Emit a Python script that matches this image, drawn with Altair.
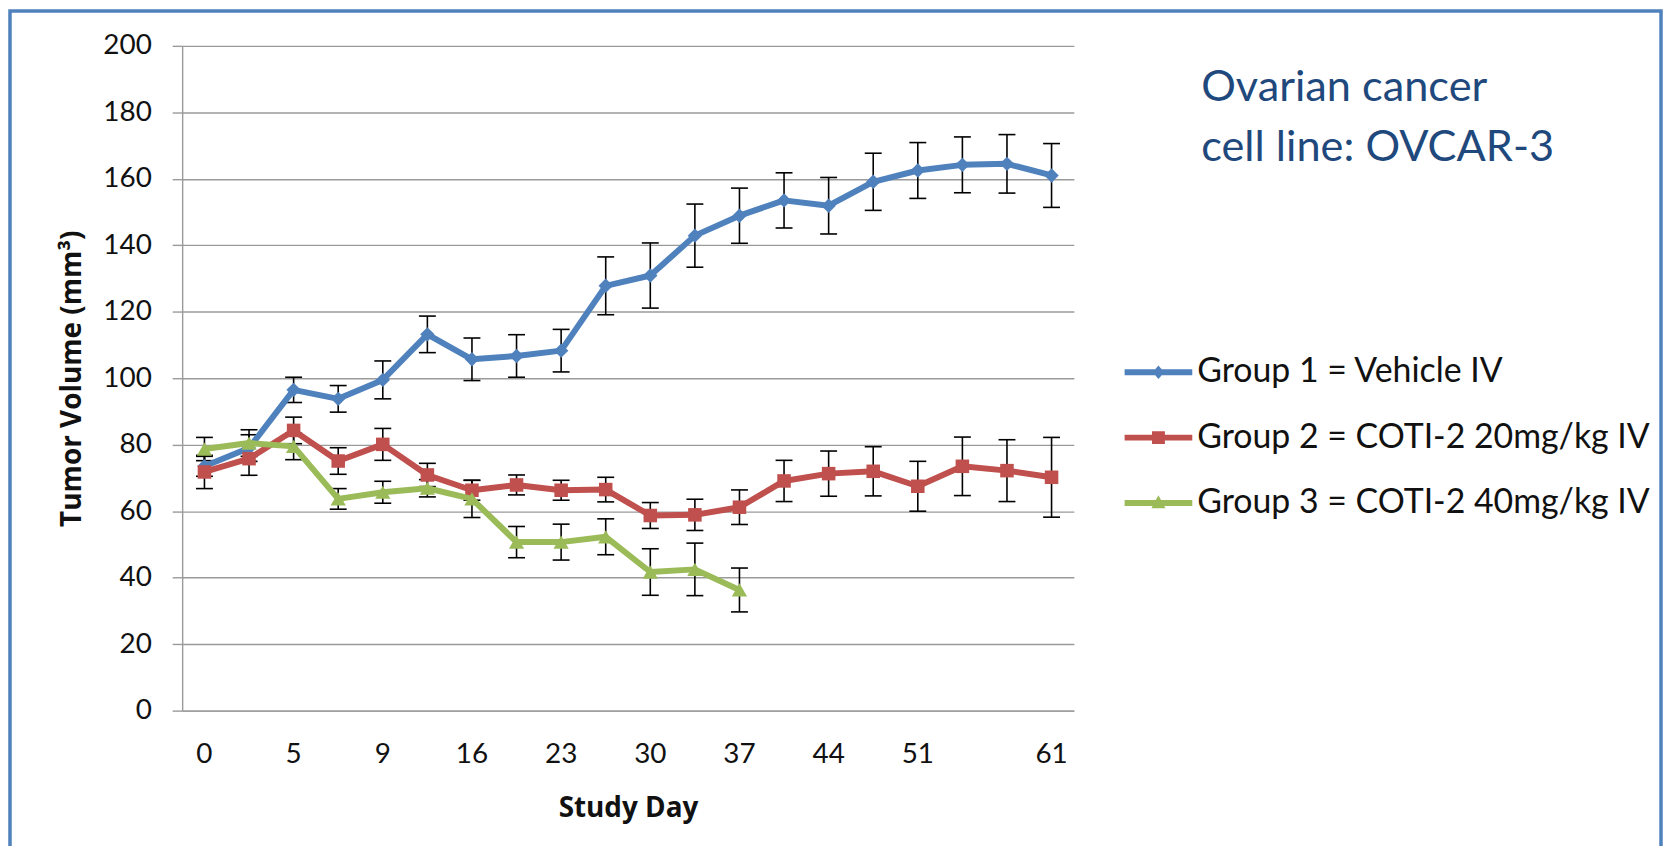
import altair as alt
import pandas as pd

# ---------------- data ----------------
days = [0, 2, 5, 7, 9, 12, 16, 19, 23, 26, 30, 33, 37, 40, 44, 47, 51, 54, 58, 61]
shown_days = [0, 5, 9, 16, 23, 30, 37, 44, 51, 61]
groups = ["Group 1 = Vehicle IV", "Group 2 = COTI-2 20mg/kg IV", "Group 3 = COTI-2 40mg/kg IV"]
colors = ["#4F81BD", "#C0504D", "#9BBB59"]
marker_shapes = ["diamond", "square", "triangle-up"]
marker_sizes = [210, 185, 235]

g1_mean = [73.5, 79.0, 96.5, 93.8, 99.5, 113.2, 105.7, 106.7, 108.3, 127.8,
           130.9, 142.9, 148.9, 153.5, 151.9, 159.1, 162.5, 164.2, 164.5, 161.0]
g1_err = [3.0, 4.0, 3.8, 4.0, 5.7, 5.5, 6.4, 6.4, 6.4, 8.7,
          9.8, 9.5, 8.3, 8.3, 8.5, 8.6, 8.4, 8.4, 8.8, 9.6]
g2_mean = [71.8, 75.8, 84.3, 75.1, 80.1, 70.9, 66.3, 67.9, 66.3, 66.5,
           58.7, 58.9, 61.2, 69.1, 71.3, 72.0, 67.5, 73.5, 72.2, 70.2]
g2_err = [5.0, 5.0, 4.0, 4.0, 4.8, 3.5, 3.0, 3.0, 3.0, 3.7,
          3.9, 4.7, 5.2, 6.2, 6.8, 7.4, 7.5, 8.8, 9.3, 12.0]
g3_mean = [78.7, 80.5, 79.5, 63.7, 65.7, 66.9, 63.7, 50.7, 50.7, 52.3,
           41.7, 42.5, 36.3]
g3_err = [3.5, 4.0, 4.0, 3.1, 3.3, 2.6, 5.6, 4.7, 5.4, 5.4, 7.0, 7.9, 6.6]

annotation = "Ovarian cancer\ncell line: OVCAR-3"
y_title = "Tumor Volume (mm³)"
x_title = "Study Day"

means = [g1_mean, g2_mean, g3_mean]
errs = [g1_err, g2_err, g3_err]

rows = []
for g, m_list, e_list in zip(groups, means, errs):
    for d, m, e in zip(days, m_list, e_list):
        rows.append({"group": g, "day": d, "mean": m, "lo": m - e, "hi": m + e})
df = pd.DataFrame(rows)

# legend symbols: line + marker (unit coordinates)
legend_paths = [
    "M-1.1,-0.095L-0.105,-0.095L0,-0.22L0.105,-0.095L1.1,-0.095L1.1,0.095L0.105,0.095L0,0.22L-0.105,0.095L-1.1,0.095Z",
    "M-1.1,-0.095L-0.21,-0.095L-0.21,-0.21L0.21,-0.21L0.21,-0.095L1.1,-0.095L1.1,0.095L0.21,0.095L0.21,0.21L-0.21,0.21L-0.21,0.095L-1.1,0.095Z",
    "M-1.1,-0.095L-0.085,-0.095L0,-0.25L0.085,-0.095L1.1,-0.095L1.1,0.095L0.187,0.095L0.23,0.17L-0.23,0.17L-0.187,0.095L-1.1,0.095Z",
]

# ---------------- layout ----------------
W, H = 896, 668
GRID = "#9A9A9A"
FONT = "Lato"
TFONT = "Open Sans"

label_expr = "indexof([" + ",".join(str(d) for d in shown_days) + "], datum.value) >= 0 ? datum.label : ''"

x_axis = alt.Axis(
    labelExpr=label_expr, ticks=False, labelAngle=0, labelPadding=30,
    labelFont=FONT, labelFontSize=28, labelColor="#111111",
    labelOverlap=False, grid=False, domainColor=GRID, domainWidth=1.4,
    titleFont=TFONT, titleFontWeight="bold", titleFontSize=28, titleColor="#111111",
    titleX=W / 2, titleY=98, titleBaseline="middle", titleAlign="center",
)
y_axis = alt.Axis(
    values=list(range(0, 201, 20)), tickSize=10, tickColor=GRID, tickWidth=1.4,
    labelPadding=21, labelFont=FONT, labelFontSize=28, labelColor="#111111",
    grid=True, gridColor=GRID, gridWidth=1.4, domainColor=GRID, domainWidth=1.4,
    titleFont=TFONT, titleFontWeight="bold", titleFontSize=28, titleColor="#111111",
    titleX=-110, titleY=H / 2, titleBaseline="middle", titleAlign="center", titleAngle=270,
)


def X():
    return alt.X("day:O", scale=alt.Scale(domain=days), axis=x_axis, title=x_title)


def Y(field):
    return alt.Y(field, scale=alt.Scale(domain=[0, 200]), axis=y_axis, title=y_title)


layers = []
# error bars
layers.append(
    alt.Chart(df).mark_rule(color="black", strokeWidth=1.6).encode(
        x=X(), y=Y("lo:Q"), y2="hi:Q")
)
for f in ["lo:Q", "hi:Q"]:
    layers.append(
        alt.Chart(df).mark_tick(color="black", thickness=1.6, size=17, opacity=1).encode(
            x=X(), y=Y(f))
    )

# series
for g, c, shp, sz in zip(groups, colors, marker_shapes, marker_sizes):
    sub = df[df["group"] == g]
    layers.append(
        alt.Chart(sub).mark_line(color=c, strokeWidth=6, strokeJoin="round").encode(
            x=X(), y=Y("mean:Q"))
    )
    layers.append(
        alt.Chart(sub).mark_point(shape=shp, filled=True, size=sz, color=c, opacity=1,
                                  strokeWidth=0).encode(x=X(), y=Y("mean:Q"))
    )

# legend (built from the group scale)
leg = alt.Legend(
    title=None, orient="none", legendX=950, legendY=297, symbolSize=3822,
    symbolStrokeWidth=0, symbolOpacity=1, labelFont=FONT, labelFontSize=34,
    labelColor="#111111", labelOffset=8, rowPadding=17.7, padding=0, labelLimit=0,
)
layers.append(
    alt.Chart(df).transform_filter("false").mark_point(filled=True, opacity=1).encode(
        color=alt.Color("group:N", scale=alt.Scale(domain=groups, range=colors), legend=leg),
        shape=alt.Shape("group:N", scale=alt.Scale(domain=groups, range=legend_paths), legend=leg),
    )
)

# annotation text
layers.append(
    alt.Chart(pd.DataFrame({"t": [annotation]})).mark_text(
        align="left", baseline="alphabetic", font=FONT, fontSize=43.5, color="#1F497D",
        lineBreak="\n", lineHeight=61,
    ).encode(text="t:N", x=alt.value(1024), y=alt.value(55))
)

# outer frame
layers.append(
    alt.Chart(pd.DataFrame({"a": [0]})).mark_rect(
        fill="transparent", stroke="#4F81BD", strokeWidth=3.5
    ).encode(x=alt.value(-173), x2=alt.value(1486), y=alt.value(-35), y2=alt.value(900))
)

chart = alt.layer(*layers).properties(
    width=W, height=H,
    autosize=alt.AutoSizeParams(type="none"),
    padding={"left": 175, "top": 36, "right": 592, "bottom": 134},
    background="white",
).configure_view(stroke=None)

chart.save("out.html", embed_options={"renderer": "svg", "actions": False})
